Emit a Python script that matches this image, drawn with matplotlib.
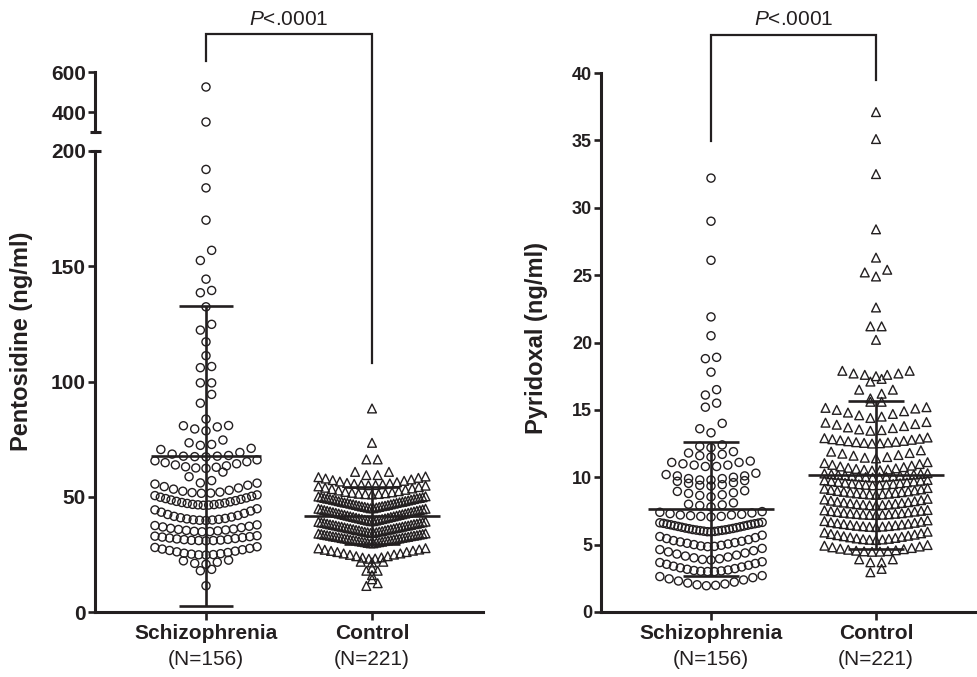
import numpy as np
import matplotlib
matplotlib.use("Agg")
import matplotlib.pyplot as plt
from matplotlib.lines import Line2D

plt.rcParams['font.family'] = ['Liberation Sans', 'DejaVu Sans']
plt.rcParams['mathtext.fontset'] = 'custom'
plt.rcParams['mathtext.it'] = 'Liberation Sans:italic'
plt.rcParams['mathtext.rm'] = 'Liberation Sans'

INK = '#231f20'

groups = ['Schizophrenia', 'Control']
group_n = ['(N=156)', '(N=221)']

# every inner list is one row of the dot plot
pento_scz = [
    [525], [350], [192], [184], [170], [152.5, 156.9], [144.4], [138.5, 139.5],
    [132.4], [122.3, 124.8], [117.2], [111.2], [106.0, 106.5], [99.4, 99.4],
    [90.6, 94.4], [83.7], [78.6, 79.4, 80.3, 80.8, 80.9], [72.3, 72.7, 73.4, 74.6],
    [67.3, 67.4, 67.6, 67.6, 67.9, 68.5, 69.2, 70.5, 71.0],
    [62.3, 62.5, 62.8, 63.0, 63.4, 63.8, 64.3, 64.8, 65.2, 65.6, 66.0],
    [56.0, 57.0, 58.7, 60.7],
    [51.5, 51.6, 51.8, 52.0, 52.4, 52.8, 53.3, 53.8, 54.4, 55.0, 55.5, 55.9],
    [46.3, 46.4, 46.5, 46.6, 46.7, 46.9, 47.1, 47.3, 47.5, 47.8,
     48.0, 48.3, 48.6, 48.9, 49.2, 49.5, 49.8, 50.2, 50.5, 50.8],
    [39.7, 39.8, 39.9, 40.0, 40.2, 40.4, 40.6, 40.9, 41.2, 41.5,
     41.9, 42.3, 42.8, 43.3, 43.8, 44.3, 44.8],
    [34.8, 34.9, 35.0, 35.2, 35.4, 35.6, 35.8, 36.0, 36.3, 36.6, 36.9, 37.2, 37.5, 37.8],
    [30.9, 31.0, 31.0, 31.1, 31.2, 31.4, 31.5, 31.7, 31.9, 32.1, 32.3, 32.5, 32.7, 32.9, 33.1],
    [24.7, 24.8, 24.9, 25.1, 25.3, 25.5, 25.8, 26.1, 26.4, 26.7, 27.0, 27.3, 27.6, 28.0, 28.3],
    [20.7, 21.1, 21.6, 22.2, 22.5],
    [17.9, 18.5], [11.4],
]

pento_ctl = [
    [88.3], [73.4], [66.2, 66.2], [59.4, 59.4, 60.8, 60.8],
    [55.0, 55.1, 55.2, 55.4, 55.6, 55.8, 56.0, 56.3, 56.6, 56.9, 57.2, 57.5, 57.9, 58.2, 58.5, 58.8],
    [51.0, 51.1, 51.2, 51.3, 51.5, 51.7, 51.9, 52.1, 52.4, 52.7, 53.0, 53.3, 53.6, 53.9, 54.2, 54.5, 54.8],
    [45.0, 45.0, 45.3, 45.3, 45.6, 45.6, 45.8, 45.9, 46.1, 46.1, 46.4, 46.4, 46.7, 46.7, 47.0, 47.0,
     47.3, 47.3, 47.5, 47.6, 47.8, 47.8, 48.1, 48.1, 48.4, 48.4, 48.7, 48.7, 49.0, 49.0, 49.2, 49.3,
     49.5, 49.5, 49.8, 49.8, 50.1, 50.2],
    [39.4, 39.4, 39.7, 39.7, 40.0, 40.0, 40.3, 40.3, 40.6, 40.6, 40.9, 40.9, 41.2, 41.2, 41.5, 41.5,
     41.8, 41.8, 42.1, 42.1, 42.4, 42.4, 42.7, 42.7, 43.0, 43.0, 43.3, 43.3, 43.6, 43.6, 43.9, 43.9,
     44.2, 44.2, 44.5, 44.5, 44.8, 44.8],
    [34.3, 34.3, 34.6, 34.6, 34.8, 34.9, 35.1, 35.1, 35.4, 35.4, 35.6, 35.7, 35.9, 35.9, 36.2, 36.2,
     36.4, 36.5, 36.7, 36.7, 37.0, 37.0, 37.2, 37.3, 37.5, 37.5, 37.8, 37.8, 38.0, 38.1, 38.3, 38.3,
     38.6, 38.6, 38.8, 38.9, 39.1, 39.2],
    [29.8, 29.8, 30.0, 30.1, 30.3, 30.3, 30.5, 30.5, 30.7, 30.8, 31.0, 31.0, 31.2, 31.2, 31.4, 31.5,
     31.7, 31.7, 31.9, 31.9, 32.1, 32.2, 32.4, 32.4, 32.6, 32.6, 32.8, 32.9, 33.1, 33.1, 33.3, 33.3,
     33.5, 33.6, 33.8, 33.8, 34.0, 34.1],
    [23.1, 23.2, 23.6, 23.7, 24.2, 24.2, 24.8, 24.9, 25.4, 25.4, 26.0, 26.0, 26.5, 26.6, 27.0, 27.1,
     27.6, 27.7],
    [21.5, 21.8, 21.8], [19.0], [17.9, 17.9], [16.0], [14.2], [11.3, 12.5],
]

pyr_scz = [
    [32.2], [29.0], [26.1], [21.9], [20.5], [18.8, 18.9], [17.8], [16.1, 16.5],
    [15.2, 15.5], [13.3, 13.6, 14.0],
    [12.2, 12.3, 12.4],
    [11.5, 11.6, 11.7, 11.8, 11.9],
    [10.8, 10.8, 10.9, 10.9, 11.0, 11.1, 11.1, 11.2],
    [9.8, 9.8, 9.9, 9.9, 10.0, 10.1, 10.1, 10.2, 10.3],
    [9.35, 9.4, 9.45, 9.55, 9.6, 9.7, 9.75],
    [8.55, 8.65, 8.7, 8.8, 8.85, 8.95, 9.0],
    [7.8, 7.9, 7.95, 8.0, 8.1],
    [7.05, 7.1, 7.1, 7.15, 7.2, 7.2, 7.25, 7.3, 7.35, 7.4, 7.45],
    [5.95, 5.96, 5.98, 6.0, 6.02, 6.04, 6.06, 6.08, 6.1, 6.12, 6.15, 6.18, 6.2, 6.23, 6.26,
     6.29, 6.32, 6.35, 6.38, 6.41, 6.44, 6.47, 6.5, 6.52, 6.55, 6.58, 6.6, 6.62, 6.65],
    [4.85, 4.87, 4.9, 4.95, 5.0, 5.05, 5.1, 5.15, 5.2, 5.25, 5.3, 5.37, 5.45, 5.52, 5.6, 5.7],
    [3.86, 3.9, 3.95, 4.02, 4.08, 4.15, 4.22, 4.3, 4.38, 4.46, 4.55, 4.63, 4.72],
    [3.0, 3.0, 3.02, 3.05, 3.08, 3.12, 3.17, 3.22, 3.28, 3.34, 3.4, 3.47, 3.54, 3.6, 3.67, 3.73],
    [1.95, 1.98, 2.02, 2.08, 2.15, 2.22, 2.3, 2.38, 2.46, 2.55, 2.63, 2.7],
]

pyr_ctl = [
    [37.1], [35.1], [32.5], [28.4], [26.3], [24.9, 25.2, 25.4], [22.6], [21.2, 21.2], [20.2],
    [17.5, 17.6, 17.6, 17.7, 17.7, 17.9, 17.9],
    [17.1, 17.3],
    [15.85, 16.2, 16.5, 16.5],
    [15.6, 15.6],
    [14.4, 14.5, 14.6, 14.7, 14.8, 14.9, 15.0, 15.1, 15.15, 15.2],
    [13.45, 13.5, 13.55, 13.65, 13.7, 13.8, 13.9, 13.95, 14.05, 14.1],
    [12.5, 12.52, 12.55, 12.58, 12.6, 12.63, 12.67, 12.7, 12.74, 12.78, 12.82, 12.86, 12.9, 12.95],
    [11.4, 11.45, 11.5, 11.6, 11.65, 11.75, 11.8, 11.9, 12.0],
    [10.5, 10.52, 10.55, 10.58, 10.62, 10.66, 10.7, 10.75, 10.8, 10.86, 10.92, 10.98, 11.05, 11.12],
    [9.98, 10.0, 10.02, 10.04, 10.06, 10.08, 10.1, 10.12, 10.14, 10.16, 10.18, 10.2, 10.22, 10.25,
     10.28, 10.3],
    [9.4, 9.42, 9.44, 9.46, 9.48, 9.5, 9.53, 9.56, 9.59, 9.62, 9.65, 9.68, 9.71, 9.74, 9.77, 9.8],
    [8.7, 8.72, 8.74, 8.76, 8.78, 8.8, 8.83, 8.86, 8.89, 8.92, 8.95, 8.98, 9.02, 9.06, 9.1, 9.15, 9.2],
    [7.9, 7.92, 7.94, 7.96, 7.98, 8.0, 8.03, 8.06, 8.09, 8.12, 8.15, 8.18, 8.22, 8.26, 8.3, 8.35, 8.4],
    [7.2, 7.21, 7.22, 7.23, 7.25, 7.27, 7.29, 7.31, 7.33, 7.36, 7.39, 7.42, 7.45, 7.48, 7.51, 7.54, 7.57],
    [6.3, 6.32, 6.34, 6.36, 6.38, 6.4, 6.43, 6.46, 6.49, 6.52, 6.55, 6.58, 6.62, 6.66, 6.7, 6.75, 6.8],
    [5.34, 5.36, 5.38, 5.4, 5.43, 5.46, 5.5, 5.54, 5.58, 5.62, 5.66, 5.7, 5.74, 5.79, 5.84, 5.9, 5.96],
    [4.47, 4.48, 4.5, 4.52, 4.55, 4.58, 4.62, 4.66, 4.7, 4.75, 4.8, 4.86, 4.92, 4.97],
    [3.69, 3.69, 3.91, 3.91],
    [2.95, 3.2],
]

# mean and SD drawn as lines
pento_mean = [67.7, 41.8]
pento_sd = [65.0, 12.3]
pyr_mean = [7.64, 10.16]
pyr_sd = [4.97, 5.48]

W, H = 978, 677
fig = plt.figure(figsize=(W / 100, H / 100), dpi=100)


def px_axes(x0, y0, x1, y1):
    return fig.add_axes([x0 / W, 1 - y1 / H, (x1 - x0) / W, (y1 - y0) / H])


def swarm(axes, rows, xc, marker, size, step, maxw):
    xs, ys = [], []
    for row in rows:
        vals = np.sort(np.asarray(row, dtype=float))
        n = len(vals)
        gap = step if n < 2 else min(step, maxw / (n - 1))
        off = (np.arange(n) - (n - 1) / 2) * gap
        off = off[np.argsort(np.abs(off), kind='stable')]
        xs.extend(xc + off)
        ys.extend(vals)
    for a in axes:
        a.scatter(xs, ys, s=size, marker=marker, facecolors='none',
                  edgecolors=INK, linewidths=1.0, zorder=2)


def mean_sd(ax, xc, m, sd, half_mean, half_cap):
    kw = dict(color=INK, lw=1.9, zorder=4, solid_capstyle='butt')
    ax.plot([xc - half_mean, xc + half_mean], [m, m], **kw)
    ax.plot([xc, xc], [m - sd, m + sd], **kw)
    ax.plot([xc - half_cap, xc + half_cap], [m + sd, m + sd], **kw)
    ax.plot([xc - half_cap, xc + half_cap], [m - sd, m - sd], **kw)


def style(ax, size, bottom=True):
    for s in ['top', 'right']:
        ax.spines[s].set_visible(False)
    ax.spines['bottom'].set_visible(bottom)
    for s in ['left', 'bottom']:
        ax.spines[s].set_linewidth(2.2)
        ax.spines[s].set_color(INK)
        ax.spines[s].set_capstyle('projecting')
    ax.tick_params(axis='y', direction='out', length=5.2, width=1.9, color=INK,
                   labelsize=size, labelcolor=INK, pad=1.2)
    ax.tick_params(axis='x', direction='out', length=5.5, width=1.9, color=INK,
                   labelsize=15, labelcolor=INK, pad=3)
    ax.set_facecolor('none')


def break_mark(ax, y, left_px, right_px, width_px):
    tr = ax.get_yaxis_transform()
    ax.plot([-left_px / width_px, right_px / width_px], [y, y], color=INK, lw=2.2,
            transform=tr, clip_on=False, solid_capstyle='butt', zorder=5)


def bracket(ax_l, yl, ax_r, yr, ax_top, ytop, ytext):
    to_fig = fig.transFigure.inverted()
    pts = [ax_l.transData.transform((0, yl)), ax_top.transData.transform((0, ytop)),
           ax_top.transData.transform((1, ytop)), ax_r.transData.transform((1, yr))]
    pts = to_fig.transform(np.array(pts))
    fig.add_artist(Line2D(pts[:, 0], pts[:, 1], color=INK, lw=1.6, solid_joinstyle='miter'))
    ax_top.text(0.5, ytext, '$P$<.0001', ha='center', va='baseline', fontsize=15,
                color=INK, clip_on=False)


def group_labels(ax):
    ax.set_xticks([0, 1], labels=groups, fontweight='bold')
    for i, n in enumerate(group_n):
        ax.annotate(n, xy=(i, 0), xycoords=('data', 'axes fraction'), xytext=(0, -27.5),
                    textcoords='offset points', ha='center', va='top', fontsize=15, color=INK)


# ---- left panel: pentosidine with broken axis ----
ax_lo = px_axes(95, 151, 483, 612)
ax_up = px_axes(95, 72, 483, 132)
for a in (ax_lo, ax_up):
    a.set_xlim(-111 / 166, 277 / 166)
ax_lo.set_ylim(0, 200)
ax_up.set_ylim(300, 600)

swarm([ax_lo, ax_up], pento_scz, 0, 'o', 34, 0.068, 0.615)
swarm([ax_lo, ax_up], pento_ctl, 1, '^', 40, 0.068, 0.645)
mean_sd(ax_lo, 0, pento_mean[0], pento_sd[0], 0.33, 0.16)
mean_sd(ax_lo, 1, pento_mean[1], pento_sd[1], 0.41, 0.17)

style(ax_lo, 15)
style(ax_up, 15, bottom=False)
ax_lo.set_yticks([0, 50, 100, 150, 200], labels=['0', '50', '100', '150', '200'], fontweight='bold')
ax_up.set_yticks([400, 600], labels=['400', '600'], fontweight='bold')
ax_up.set_xticks([])
group_labels(ax_lo)
break_mark(ax_lo, 200, 5, 6, 388)
break_mark(ax_up, 300, 5, 6, 388)
bracket(ax_up, 655, ax_lo, 108, ax_up, 790, 835)
fig.text(22 / W, 1 - 341 / H, 'Pentosidine (ng/ml)', rotation=90, ha='center', va='center',
         fontsize=17, fontweight='bold', color=INK)

# ---- right panel: pyridoxal ----
ax_r = px_axes(601, 73, 977, 612)
ax_r.set_xlim(-110 / 165, 266 / 165)
ax_r.set_ylim(0, 40)
swarm([ax_r], pyr_scz, 0, 'o', 34, 0.068, 0.62)
swarm([ax_r], pyr_ctl, 1, '^', 40, 0.068, 0.625)
mean_sd(ax_r, 0, pyr_mean[0], pyr_sd[0], 0.38, 0.17)
mean_sd(ax_r, 1, pyr_mean[1], pyr_sd[1], 0.41, 0.17)
style(ax_r, 13)
ax_r.set_yticks(np.arange(0, 41, 5), labels=[str(v) for v in range(0, 41, 5)], fontweight='bold')
group_labels(ax_r)
bracket(ax_r, 34.95, ax_r, 39.5, ax_r, 42.8, 43.55)
fig.text(537 / W, 1 - 338 / H, 'Pyridoxal (ng/ml)', rotation=90, ha='center', va='center',
         fontsize=17, fontweight='bold', color=INK)

fig.savefig('out.png', dpi=100, facecolor='white')
